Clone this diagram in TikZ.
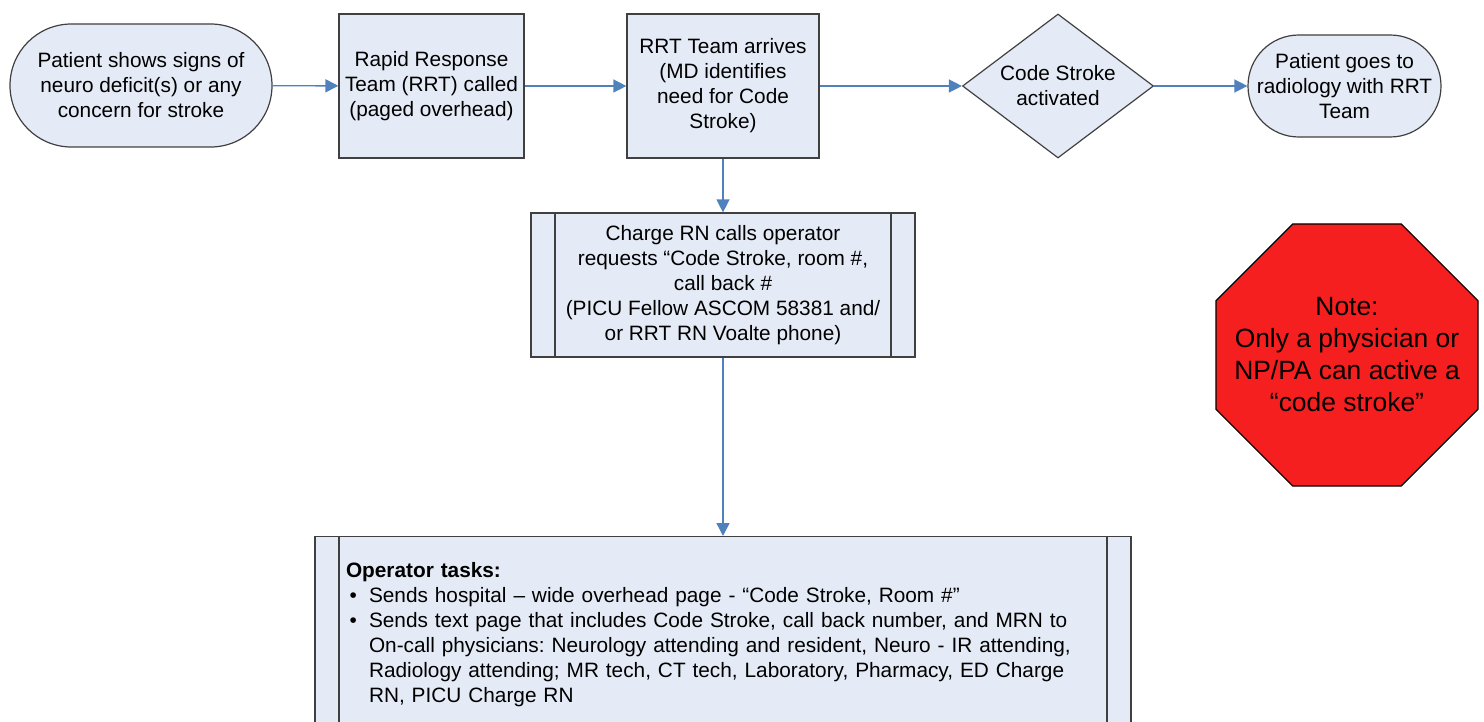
\documentclass[tikz,border=0pt]{standalone}
\usepackage{fontspec}
\setmainfont{Liberation Sans}
\usepackage{tikz}
\usetikzlibrary{arrows.meta,calc,shapes.geometric}
\usepackage{xcolor}
\usepackage{enumitem}
\definecolor{boxfill}{HTML}{E5EBF6}
\definecolor{boxline}{HTML}{404040}
\definecolor{flowblue}{HTML}{4F81BD}
\definecolor{stopred}{HTML}{F61F1F}

\begin{document}
\begin{tikzpicture}[x=0.5pt,y=-0.5pt,
  txt/.style={font=\fontsize{10.4}{12.5}\selectfont\frenchspacing,align=center},
  procbox/.style={txt,draw=boxline,line width=0.6pt,fill=boxfill,inner sep=0pt},
  termbox/.style={procbox},
  decbox/.style={procbox,diamond,aspect=1.33},
  subproc/.style={procbox,path picture={
      \draw[boxline,line width=0.6pt]
        ([xshift=12pt]path picture bounding box.north west) -- ([xshift=12pt]path picture bounding box.south west)
        ([xshift=-12pt]path picture bounding box.north east) -- ([xshift=-12pt]path picture bounding box.south east);}},
  stopsign/.style={draw=black,line width=0.6pt,fill=stopred,regular polygon,regular polygon sides=8,
      inner sep=-15pt,font=\fontsize{13.2}{16}\selectfont,align=center},
  flow/.style={draw=flowblue,line width=0.7pt,-{Triangle[length=6.5pt,width=6.5pt]}}]
  \useasboundingbox (0,0) rectangle (1484,722);
  \clip (0,0) rectangle (1484,722);
  \node[termbox,minimum width=131pt,minimum height=61.5pt,rounded corners=30.7pt] (start) at (141,85.5)
    {Patient shows signs of\\neuro deficit(s) or any\\concern for stroke};
  \node[procbox,minimum width=92.5pt,minimum height=72pt] (rrt) at (431.5,86)
    {Rapid Response\\Team (RRT) called\\(paged overhead)};
  \node[procbox,minimum width=96pt,minimum height=72pt] (arrive) at (723,86)
    {RRT Team arrives\\(MD identifies\\need for Code\\Stroke)};
  \node[decbox,minimum width=95.5pt,minimum height=72pt] (code) at (1058,86)
    {Code Stroke\\activated};
  \node[termbox,minimum width=96.5pt,minimum height=51pt,rounded corners=25.4pt] (goes) at (1344.5,86)
    {Patient goes to\\radiology with RRT\\Team};
  \node[subproc,minimum width=192pt,minimum height=72pt] (charge) at (723,285)
    {Charge RN calls operator\\requests “Code Stroke, room \#,\\call back \#\\(PICU Fellow ASCOM 58381 and/\\or RRT RN Voalte phone)};
  \node[stopsign,minimum size=141.8pt] (note) at (1347,355)
    {Note:\\Only a physician or\\NP/PA can active a\\“code stroke”};
  \node[subproc,anchor=north,minimum width=408pt,minimum height=98pt,text width=377pt,
        inner xsep=15.5pt,align=left] (oper) at (723,536)
    {\textbf{Operator tasks:}\par
     \begin{itemize}[nosep,leftmargin=11.5pt,labelsep=6pt,label=\textbullet]
       \item Sends hospital – wide overhead page - “Code Stroke, Room \#”
       \item Sends text page that includes Code Stroke, call back number, and MRN to\\
         On-call physicians: Neurology attending and resident, Neuro - IR attending,\\
         Radiology attending; MR tech, CT tech, Laboratory, Pharmacy, ED Charge\\
         RN, PICU Charge RN
     \end{itemize}};
  \draw[flow] (start) -- (rrt);
  \draw[flow] (rrt) -- (arrive);
  \draw[flow] (arrive) -- (code);
  \draw[flow] (code) -- (goes);
  \draw[flow] (arrive) -- (charge);
  \draw[flow] (charge) -- (oper);
\end{tikzpicture}
\end{document}
